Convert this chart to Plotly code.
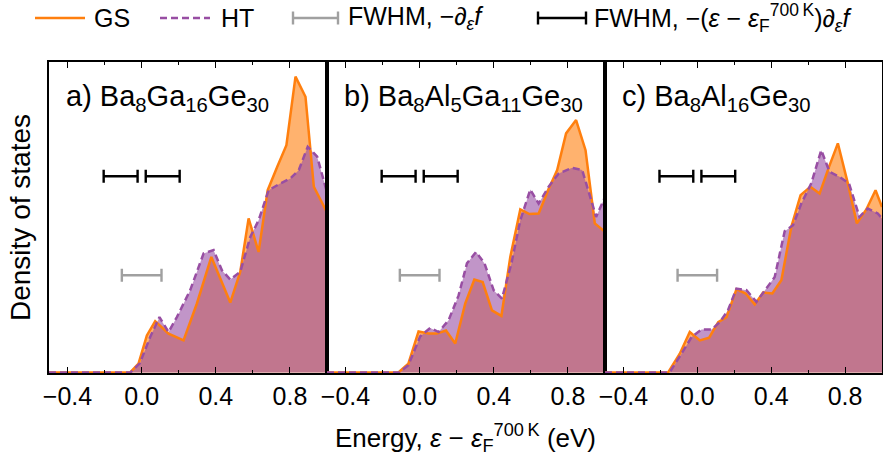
import plotly.graph_objects as go

# ---------------- data (energy in eV, DOS in arbitrary units) ----------------
a_gs_e = [-0.5, -0.062, -0.017, 0.028, 0.073, 0.145, 0.226, 0.298, 0.376, 0.478, 0.532, 0.577,
          0.631, 0.680, 0.731, 0.781, 0.830, 0.884, 0.929, 0.992, 1.0]
a_gs_d = [0, 0, 2.8, 11.9, 16.5, 12.5, 10.3, 22.2, 37.2, 22.5, 32.4, 49.6,
          38.8, 58.7, 66.2, 73.2, 95.3, 88.8, 59.8, 52.3, 51.5]
a_ht_e = [-0.5, -0.06, -0.01, 0.046, 0.096, 0.145, 0.19, 0.262, 0.334, 0.388, 0.433, 0.478,
          0.532, 0.586, 0.631, 0.685, 0.749, 0.803, 0.848, 0.896, 0.947, 0.997, 1.0]
a_ht_d = [0, 0, 2.9, 11.4, 17.8, 13.0, 17.8, 26.5, 38.3, 39.4, 32.9, 29.9,
          32.4, 43.6, 49.0, 58.7, 60.9, 62.5, 65.2, 72.7, 69.5, 58.2, 58.0]

b_gs_e = [-0.5, -0.115, -0.061, -0.006, 0.048, 0.093, 0.142, 0.192, 0.246, 0.295, 0.340, 0.390,
          0.441, 0.489, 0.543, 0.592, 0.642, 0.693, 0.742, 0.790, 0.844, 0.895, 0.945, 1.0]
b_gs_d = [0, 0, 2.8, 13.2, 12.5, 12.5, 13.5, 9.3, 22.2, 29.9, 29.1, 20.0,
          18.2, 37.2, 52.5, 51.0, 51.2, 58.7, 65.2, 77.0, 81.3, 71.6, 48.0, 45.3]
b_ht_e = [-0.5, -0.11, -0.061, 0.003, 0.057, 0.102, 0.156, 0.21, 0.255, 0.304, 0.350, 0.399,
          0.444, 0.495, 0.543, 0.597, 0.642, 0.696, 0.750, 0.823, 0.877, 0.925, 0.952, 1.0]
b_ht_d = [0, 0, 2.3, 11.6, 14.3, 13.0, 16.8, 24.8, 35.1, 38.8, 35.1, 26.5,
          23.8, 35.1, 49.0, 58.9, 54.4, 59.8, 64.1, 65.9, 65.2, 55.5, 50.1, 56.5]

c_gs_e = [-0.5, -0.158, -0.095, -0.041, 0.014, 0.064, 0.113, 0.158, 0.212, 0.262, 0.311, 0.356,
          0.406, 0.455, 0.509, 0.559, 0.612, 0.662, 0.713, 0.761, 0.815, 0.864, 0.915, 0.965, 1.0]
c_gs_d = [0, 0, 6.0, 13.0, 10.3, 11.2, 16.2, 17.8, 26.8, 25.4, 21.9, 25.7,
          25.4, 29.7, 46.9, 57.1, 59.8, 57.6, 66.2, 73.8, 60.9, 48.0, 52.5, 58.7, 53.3]
c_ht_e = [-0.5, -0.15, -0.086, -0.031, 0.023, 0.077, 0.122, 0.166, 0.212, 0.266, 0.320, 0.365,
          0.419, 0.473, 0.518, 0.563, 0.617, 0.671, 0.716, 0.770, 0.821, 0.878, 0.923, 0.977, 1.0]
c_ht_d = [0, 0, 6.0, 11.4, 13.8, 13.8, 16.2, 20.0, 27.0, 26.5, 22.7, 26.2,
          30.7, 45.5, 47.4, 54.4, 60.9, 71.6, 64.6, 63.0, 60.9, 50.1, 52.8, 51.2, 49.6]

panel_labels = ["a) Ba<sub>8</sub>Ga<sub>16</sub>Ge<sub>30</sub>",
                "b) Ba<sub>8</sub>Al<sub>5</sub>Ga<sub>11</sub>Ge<sub>30</sub>",
                "c) Ba<sub>8</sub>Al<sub>16</sub>Ge<sub>30</sub>"]

# FWHM bars: centre, half-width, height (DOS units)
fd_center, fd_half, fd_y = [0.0], [0.107], [31.3]
efd_center, efd_half, efd_y = [-0.1135, 0.1135], [0.0915, 0.0915], [63.2, 63.2]

tick_vals = [-0.4, 0.0, 0.4, 0.8]
tick_text = ["\u22120.4", "0.0", "0.4", "0.8"]

ORANGE = "#ff7f0e"
PURPLE = "#984ea3"
GRAY = "#a0a0a0"
FONT = "Liberation Sans"
FS = 25

# ---------------- figure ----------------
W, H = 883, 462
L, R, T, B = 49, 1, 62, 89
pw = W - L - R
ph = H - T - B
doms = [[0, 278 / pw], [278 / pw, 556 / pw], [556 / pw, 1]]

fig = go.Figure()
panels = [(a_gs_e, a_gs_d, a_ht_e, a_ht_d), (b_gs_e, b_gs_d, b_ht_e, b_ht_d),
          (c_gs_e, c_gs_d, c_ht_e, c_ht_d)]
for i, (ge, gd, he, hd) in enumerate(panels):
    xa = "x" if i == 0 else f"x{i+1}"
    ya = "y" if i == 0 else f"y{i+1}"
    fig.add_trace(go.Scatter(x=ge, y=gd, xaxis=xa, yaxis=ya, mode="lines", fill="tozeroy",
                             fillcolor="rgba(255,127,14,0.6)", line=dict(width=0),
                             showlegend=False, hoverinfo="skip"))
    fig.add_trace(go.Scatter(x=he, y=hd, xaxis=xa, yaxis=ya, mode="lines", fill="tozeroy",
                             fillcolor="rgba(152,78,163,0.6)", line=dict(width=0),
                             showlegend=False, hoverinfo="skip"))
    fig.add_trace(go.Scatter(x=ge, y=gd, xaxis=xa, yaxis=ya, mode="lines",
                             line=dict(color=ORANGE, width=2.5), showlegend=False))
    fig.add_trace(go.Scatter(x=he, y=hd, xaxis=xa, yaxis=ya, mode="lines",
                             line=dict(color=PURPLE, width=2.5, dash="7px,4px"), showlegend=False))
    fig.add_trace(go.Scatter(x=fd_center, y=fd_y, xaxis=xa, yaxis=ya, mode="markers",
                             marker=dict(size=1, color="rgba(0,0,0,0)"),
                             error_x=dict(type="data", array=fd_half, color=GRAY, thickness=2.4, width=6.5),
                             showlegend=False))
    fig.add_trace(go.Scatter(x=efd_center, y=efd_y, xaxis=xa, yaxis=ya, mode="markers",
                             marker=dict(size=1, color="rgba(0,0,0,0)"),
                             error_x=dict(type="data", array=efd_half, color="black", thickness=2.4, width=6.5),
                             showlegend=False))
    xkey = "xaxis" if i == 0 else f"xaxis{i+1}"
    ykey = "yaxis" if i == 0 else f"yaxis{i+1}"
    fig.layout[xkey] = dict(domain=doms[i], range=[-0.5, 1.0], anchor=ya,
                            tickvals=tick_vals, ticktext=tick_text, ticks="inside", ticklen=6,
                            tickwidth=1.2, tickcolor="black", mirror="ticks", showline=True,
                            linecolor="black", linewidth=1.8, showgrid=False, zeroline=False,
                            ticklabelstandoff=0,
                            minor=dict(tickvals=[-0.2, 0.2, 0.6], ticks="inside", ticklen=3.5,
                                       tickwidth=1.0, tickcolor="black"),
                            tickfont=dict(family=FONT, size=FS, color="black"))
    fig.layout[ykey] = dict(domain=[0, 1], range=[-0.2, 100], anchor=xa, showticklabels=False,
                            ticks="", showline=True, mirror=True, linecolor="black", linewidth=1.8,
                            showgrid=False, zeroline=False)
    fig.add_annotation(text=panel_labels[i], xref=f"{xa} domain", yref=f"{ya} domain",
                       x=0.055, y=0.885, xanchor="left", yanchor="middle", showarrow=False,
                       font=dict(family=FONT, size=29, color="black"))

def px2x(px):
    return (px - L) / pw

def py2y(py):
    return (H - B - py) / ph

fig.add_annotation(text="Density of states", xref="paper", yref="paper", x=px2x(20), y=py2y(218),
                   textangle=-90, xanchor="center", yanchor="middle", showarrow=False,
                   font=dict(family=FONT, size=28, color="black"))
fig.add_annotation(text="Energy, <i>\u03b5</i> \u2212 <i>\u03b5</i><sub>F</sub><sup>700\u2009K</sup> (eV)",
                   xref="paper", yref="paper", x=0.5, y=py2y(438), xanchor="center",
                   yanchor="middle", showarrow=False, font=dict(family=FONT, size=FS + 1, color="black"))

# ---------------- custom legend ----------------
ly = py2y(18)
def hline(x0, x1, color, width, dash=None):
    fig.add_shape(type="line", xref="paper", yref="paper", x0=px2x(x0), x1=px2x(x1), y0=ly, y1=ly,
                  line=dict(color=color, width=width, dash=dash))

def capbar(x0, x1, color):
    hline(x0, x1, color, 2.4)
    cap = 6.5 / ph
    for xx in (x0, x1):
        fig.add_shape(type="line", xref="paper", yref="paper", x0=px2x(xx), x1=px2x(xx),
                      y0=ly - cap, y1=ly + cap, line=dict(color=color, width=2.4))

def ltext(px, txt):
    fig.add_annotation(text=txt, xref="paper", yref="paper", x=px2x(px), y=ly, xanchor="left",
                       yanchor="middle", showarrow=False, font=dict(family=FONT, size=FS, color="black"))

hline(35, 85, ORANGE, 2.5)
ltext(92, "GS")
hline(160, 210, PURPLE, 2.5, "7px,4px")
ltext(219, "HT")
capbar(293, 338, GRAY)
ltext(346, "FWHM, \u2212\u2202<sub><i>\u03b5</i></sub><i>f</i>")
capbar(538, 586, "black")
ltext(592, "FWHM, \u2212(<i>\u03b5</i> \u2212 <i>\u03b5</i><sub>F</sub><sup>700\u2009K</sup>)\u2202<sub><i>\u03b5</i></sub><i>f</i>")

fig.update_layout(width=W, height=H, margin=dict(l=L, r=R, t=T, b=B, autoexpand=False),
                  plot_bgcolor="white", paper_bgcolor="white", showlegend=False,
                  font=dict(family=FONT, color="black"))

fig.write_html("out.html")
